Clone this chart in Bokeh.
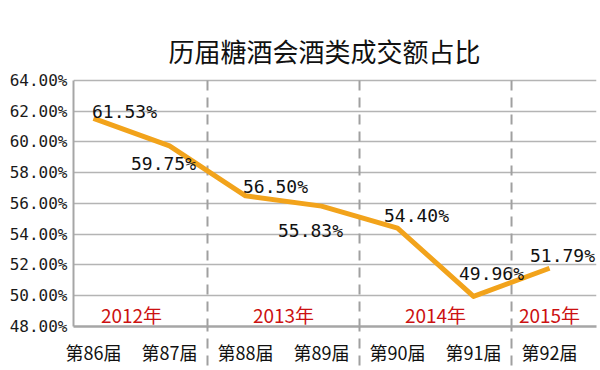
from bokeh.plotting import figure
from bokeh.models import ColumnDataSource, Range1d, FixedTicker, LabelSet
from bokeh.core.properties import value
from bokeh.embed import file_html
from bokeh.resources import INLINE

# ---- data ----
sessions = ["第86届", "第87届", "第88届", "第89届", "第90届", "第91届", "第92届"]
share = [61.53, 59.75, 56.50, 55.83, 54.40, 49.96, 51.79]
years = ["2012年", "2013年", "2014年", "2015年"]
sessions_per_year = [2, 2, 2, 1]
y_ticks = [48, 50, 52, 54, 56, 58, 60, 62, 64]
title_text = "历届糖酒会酒类成交额占比"

# ---- layout helpers (label placement in screen px, +y = up) ----
label_dx = [31, -6, 30, -11, 19, 18, 13]
label_dy = [7, -18, 9, -24, 13, 23, 13]

LINE = "#f2a31b"
GRID = "#b4b4b4"
AXIS = "#a6a6a6"
SEP = "#a0a0a0"
CJK = "Noto Sans CJK SC"
MONO = "DejaVu Sans Mono"

idx = list(range(len(sessions)))

# year group boundaries and centres
bounds = []
year_x = []
c = 0
for n in sessions_per_year:
    year_x.append(c + (n - 1) / 2)
    c += n
    if c < len(sessions):
        bounds.append(c - 0.5)

p = figure(width=600, height=370,
           x_range=Range1d(-0.263, 6.618), y_range=Range1d(y_ticks[0], 64.13),
           output_backend="svg", toolbar_location=None,
           min_border_left=73, min_border_right=4, min_border_bottom=44,
           min_border_top=78)

p.title.text = title_text
p.title.align = "left"
p.title.offset = 95
p.title.text_font = CJK
p.title.text_font_size = "26px"
p.title.text_font_style = "normal"
p.title.text_color = "#111111"
p.title.standoff = 19

p.outline_line_color = None
p.background_fill_color = "white"
p.border_fill_color = "white"

# x axis: session labels; dashed minor ticks continue the year separators
xax = p.xaxis[0]
xax.ticker = FixedTicker(ticks=idx, minor_ticks=bounds)
xax.major_label_overrides = {i: s for i, s in zip(idx, sessions)}
xax.major_label_text_font = CJK
xax.major_label_text_font_size = "18px"
xax.major_label_text_color = "#111111"
xax.major_label_standoff = -27
xax.major_tick_line_color = None
xax.major_tick_out = 0
xax.major_tick_in = 0
xax.minor_tick_line_color = SEP
xax.minor_tick_line_width = 2
xax.minor_tick_line_dash = "10 7"
xax.minor_tick_out = 39
xax.minor_tick_in = 0
xax.axis_line_color = AXIS
xax.axis_line_width = 2.5
p.xgrid.visible = False

yax = p.yaxis[0]
yax.ticker = FixedTicker(ticks=y_ticks)
yax.bounds = (y_ticks[0], y_ticks[-1])
yax.major_label_overrides = {t: f"{t:.2f}%" for t in y_ticks}
yax.major_label_text_font = MONO
yax.major_label_text_font_size = "16px"
yax.major_label_text_color = "#1a1a1a"
yax.major_label_standoff = 6
yax.major_tick_line_color = None
yax.major_tick_out = 0
yax.major_tick_in = 0
yax.minor_tick_line_color = None
yax.axis_line_color = AXIS
yax.axis_line_width = 2

p.ygrid.ticker = FixedTicker(ticks=y_ticks)
p.ygrid.grid_line_color = GRID
p.ygrid.grid_line_width = 1.5

# year separators (dashed) inside the plot
p.segment(x0=bounds, x1=bounds, y0=[y_ticks[-1]] * len(bounds),
          y1=[y_ticks[0]] * len(bounds),
          line_color=SEP, line_width=2, line_dash="10 7")

# year labels
p.text(x=year_x, y=[y_ticks[0] + 0.8] * len(years), text=years,
       text_font=value(CJK), text_font_size="19px", text_color="#cc1111",
       text_align="center", text_baseline="middle")

# line
src = ColumnDataSource(dict(x=idx, y=share,
                            lab=[f"{v:.2f}%" for v in share],
                            dx=label_dx, dy=label_dy))
p.line("x", "y", source=src, line_color=LINE, line_width=5, line_join="round")

p.add_layout(LabelSet(x="x", y="y", text="lab", source=src, x_offset="dx", y_offset="dy",
                      text_font=value(MONO), text_font_size="18px", text_color="#111111",
                      text_align="center", text_baseline="middle"))

open("out.html", "w").write(file_html(p, INLINE))
